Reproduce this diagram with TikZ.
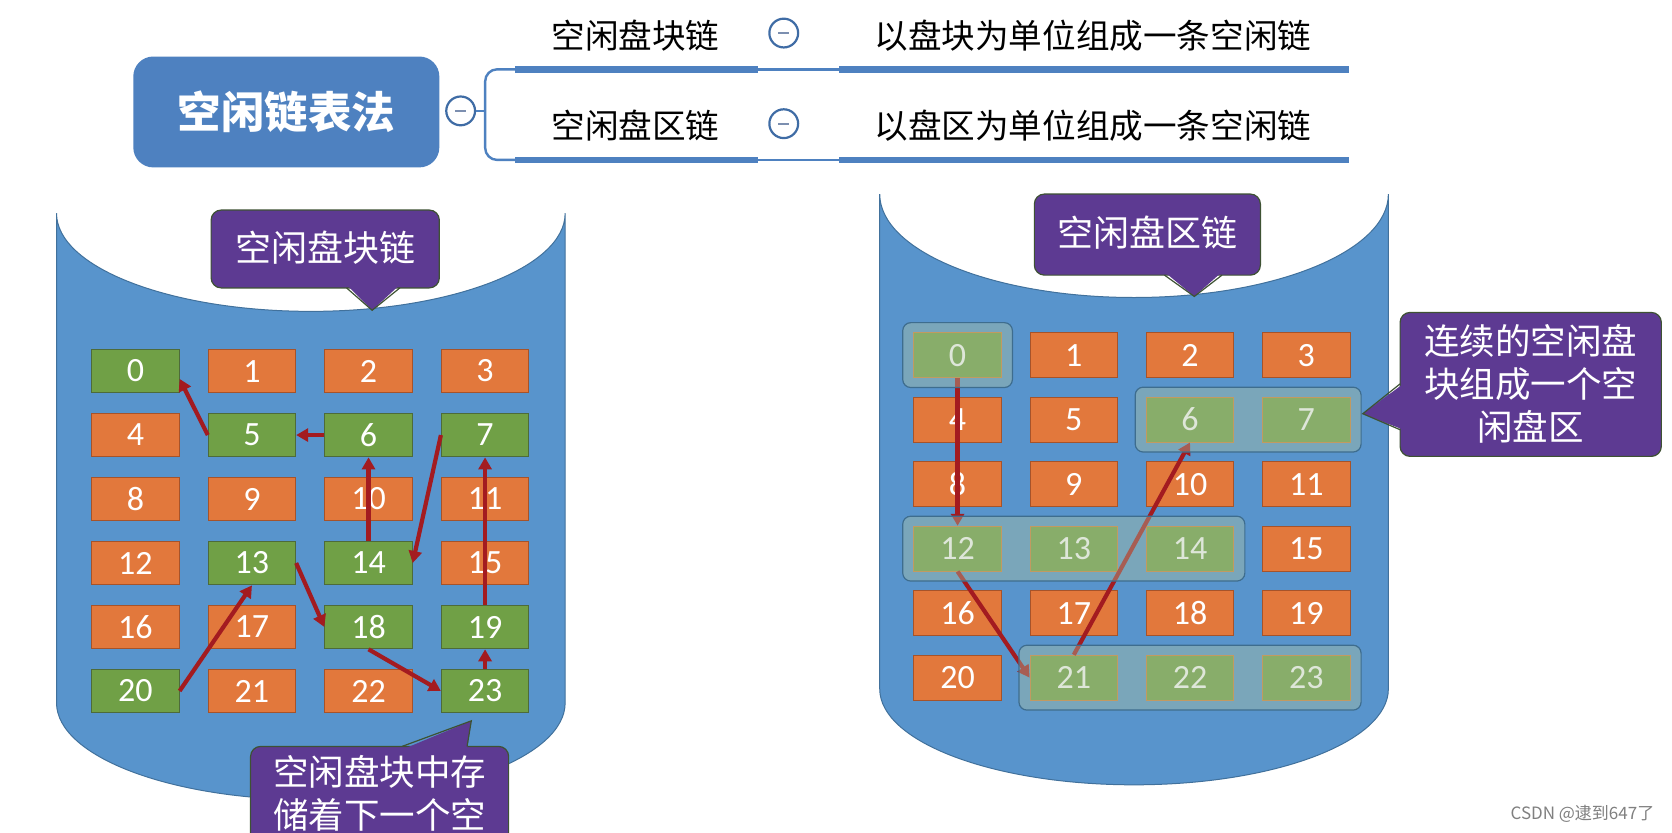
\documentclass[tikz,border=0pt]{standalone}
\usepackage{fontspec}
\usetikzlibrary{arrows.meta,calc,fit}
\newfontfamily\cjk{Noto Sans CJK SC}
\newfontfamily\numf{Carlito}
\newcommand\PX{1.0663pt}
\definecolor{cylblue}{HTML}{5894CC}
\definecolor{cylline}{HTML}{41719C}
\definecolor{fillo}{HTML}{E2783C}
\definecolor{lineo}{HTML}{A6532A}
\definecolor{fillg}{HTML}{70A046}
\definecolor{lineg}{HTML}{4D6B3A}
\definecolor{fillr}{HTML}{70A046}
\definecolor{liner}{HTML}{D08038}
\definecolor{arrowred}{HTML}{A31B20}
\definecolor{callpurple}{HTML}{5D3A92}
\definecolor{callline}{HTML}{3E5233}
\definecolor{mapblue}{HTML}{4E81C0}
\definecolor{togline}{HTML}{3F6CA5}
\definecolor{togminus}{HTML}{7C8FB0}
\definecolor{groupfill}{HTML}{ADC2A0}
\definecolor{groupline}{HTML}{3E6D8E}
\tikzset{
  cyl/.style={fill=cylblue, draw=cylline, line width=1pt},
  blk/.style={fill=fill#1, draw=line#1, line width=0.9pt, minimum width=82*\PX, minimum height=41*\PX, inner sep=0pt, text=white, font=\numf\fontsize{34}{34}\selectfont},
  rblk/.style={blk=#1, minimum height=42*\PX},
  link/.style={draw=arrowred, line width=4.2pt, -{Triangle[length=12pt,width=13pt]}},
  group/.style={draw=groupline, line width=1.2pt, fill=groupfill, fill opacity=0.4, rounded corners=8pt, inner xsep=10*\PX, inner ysep=9*\PX},
  callbox/.style={fill=callpurple, draw=callline, line width=1.2pt, rounded corners=10pt, inner sep=0pt},
  calltext/.style={text=white, align=center, font=\cjk\fontsize{35.5}{42.6}\selectfont, inner sep=0pt},
  callptr/.style={fill=callpurple},
  callptrline/.style={draw=callline, line width=1.2pt},
  mapbox/.style={fill=mapblue, rounded corners=20pt, minimum width=287*\PX, minimum height=104*\PX, text=white, font=\cjk\bfseries\fontsize{43.5}{43.5}\selectfont, inner sep=0pt},
  maptext/.style={text=black, font=\cjk\fontsize{33.6}{33.6}\selectfont, inner sep=0pt},
  toggle/.style={circle, draw=togline, line width=2.2pt, fill=white, minimum size=27*\PX, inner sep=0pt},
  togbar/.style={draw=togminus, line width=2pt},
  mapline/.style={draw=mapblue, line width=2.4pt},
  mapbar/.style={draw=mapblue, line width=6.4pt},
  wmark/.style={text=black!50, font=\cjk\fontsize{17}{17}\selectfont, inner sep=0pt}
}
\begin{document}
\begin{tikzpicture}[x=1.0663pt,y=-1.0663pt]
\useasboundingbox (0,0) rectangle (1568,780.3);
\clip (0,0) rectangle (1568,780.3);
\fill[white] (0,0) rectangle (1568,780.3);

% ---------- mind map ----------
\node[mapbox] (root) at (268.5,105) {空闲链表法};
\node[toggle] (tg0) at (432,104) {};
\draw[togbar] ([xshift=-5*\PX]tg0.center) -- ([xshift=5*\PX]tg0.center);
\coordinate (bj) at (455,104);
\coordinate (bt) at (483,65);
\coordinate (bb) at (483,150);
\draw[mapline] (tg0.east) -- (bj);
\draw[mapline, rounded corners=12pt] (bt) -- (455,65) -- (455,150) -- (bb);

\node[maptext] (t1) at (596,33) {空闲盘块链};
\node[toggle] (tg1) at (735,31) {};
\draw[togbar] ([xshift=-5*\PX]tg1.center) -- ([xshift=5*\PX]tg1.center);
\node[maptext] (d1) at (1025,33) {以盘块为单位组成一条空闲链};
\coordinate (t1e) at (711,65);
\coordinate (d1s) at (787,65);
\coordinate (d1e) at (1265,65);
\draw[mapbar] (bt) -- (t1e);
\draw[mapline] (t1e) -- (d1s);
\draw[mapbar] (d1s) -- (d1e);

\node[maptext] (t2) at (596,118) {空闲盘区链};
\node[toggle] (tg2) at (735,116) {};
\draw[togbar] ([xshift=-5*\PX]tg2.center) -- ([xshift=5*\PX]tg2.center);
\node[maptext] (d2) at (1025,118) {以盘区为单位组成一条空闲链};
\coordinate (t2e) at (711,150);
\coordinate (d2s) at (787,150);
\coordinate (d2e) at (1265,150);
\draw[mapbar] (bb) -- (t2e);
\draw[mapline] (t2e) -- (d2s);
\draw[mapbar] (d2s) -- (d2e);

% ---------- cylinders ----------
\path[cyl] (53,200) -- (53,659)
  .. controls (53,709.3) and (159.8,750) .. (291.5,750)
  .. controls (423.2,750) and (530,709.3) .. (530,659)
  -- (530,200)
  .. controls (530,250.8) and (423.2,292) .. (291.5,292)
  .. controls (159.8,292) and (53,250.8) .. (53,200) -- cycle;
\path[cyl] (825,182) -- (825,646)
  .. controls (825,695.7) and (931.8,736) .. (1063.5,736)
  .. controls (1195.2,736) and (1302,695.7) .. (1302,646)
  -- (1302,182)
  .. controls (1302,235.6) and (1195.2,279) .. (1063.5,279)
  .. controls (931.8,279) and (825,235.6) .. (825,182) -- cycle;

% ---------- top callouts ----------
\node[callbox, minimum width=214*\PX, minimum height=73*\PX] (cb1) at (305,233.5) {};
\fill[callptr] (325,267) -- (349,291) -- (375,267) -- cycle;
\draw[callptrline] (325,270) -- (349,291) -- (375,270);
\node[calltext, font=\cjk\fontsize{36}{36}\selectfont] (ct1) at (305,232) {空闲盘块链};

\node[callbox, minimum width=212*\PX, minimum height=76*\PX] (cb2) at (1076,220) {};
\fill[callptr] (1092,255) -- (1120,278) -- (1146,255) -- cycle;
\draw[callptrline] (1092,258) -- (1120,278) -- (1146,258);
\node[calltext, font=\cjk\fontsize{36}{36}\selectfont] (ct2) at (1076,218) {空闲盘区链};

% ---------- left blocks ----------
\foreach \n/\k in {0/g,1/o,2/o,3/o,4/o,5/g,6/g,7/g,8/o,9/o,10/o,11/o,12/o,13/g,14/g,15/o,16/o,17/o,18/g,19/g,20/g,21/o,22/o,23/g}{
  \pgfmathtruncatemacro\cc{mod(\n,4)}
  \pgfmathtruncatemacro\rr{floor(\n/4)}
  \node[blk=\k] (L\n) at ({127+109.3*\cc},{348+60*\rr}) {\n};
}
% ---------- right blocks ----------
\foreach \n/\k in {0/r,1/o,2/o,3/o,4/o,5/o,6/r,7/r,8/o,9/o,10/o,11/o,12/r,13/r,14/r,15/o,16/o,17/o,18/o,19/o,20/o,21/r,22/r,23/r}{
  \pgfmathtruncatemacro\cc{mod(\n,4)}
  \pgfmathtruncatemacro\rr{floor(\n/4)}
  \node[rblk=\k] (R\n) at ({898+109*\cc},{333+60.5*\rr}) {\n};
}

% ---------- left links ----------
\draw[link] (L5.west) -- (L0.-10);
\draw[link] (L6.west) -- (L5.east);
\draw[link] (L14.north) -- (L6.south);
\draw[link] (L7.west) -- (L14.east);
\draw[link] (L19.north) -- (L7.south);
\draw[link] (L23.north) -- (L19.south);
\draw[link] (L18.south) -- (L23.west);
\draw[link] (L13.east) -- (L18.west);
\draw[link] (L20.east) -- (L13.south);

% ---------- right links ----------
\draw[link] (R0.south) -- (R12.north);
\draw[link] (R12.south) -- (R21.west);
\draw[link] (R21.north) -- (R6.south);

% ---------- free areas ----------
\node[group, fit=(R0)] (G0) {};
\node[group, fit=(R6)(R7)] (G1) {};
\node[group, fit=(R12)(R14)] (G2) {};
\node[group, fit=(R21)(R23)] (G3) {};

% ---------- side callout ----------
\node[callbox, minimum width=245*\PX, minimum height=135*\PX] (cb3) at (1435.5,360.5) {};
\fill[callptr] (1316,360) -- (1278,388) -- (1316,403) -- cycle;
\draw[callptrline] (1313,360) -- (1278,388) -- (1313,403);
\node[calltext] (ct3) at (1435.5,360) {连续的空闲盘\\块组成一个空\\闲盘区};

% ---------- bottom callout ----------
\node[callbox, minimum width=242*\PX, minimum height=130*\PX] (cb4) at (356,765) {};
\fill[callptr] (377,703) -- (442,676) -- (438,703) -- cycle;
\draw[callptrline] (377,700) -- (442,676) -- (438,700);
\node[calltext] (ct4) at (356,744) {空闲盘块中存\\储着下一个空};

% ---------- watermark ----------
\node[wmark] (wm) at (1484,763) {CSDN @逮到647了};
\end{tikzpicture}
\end{document}
